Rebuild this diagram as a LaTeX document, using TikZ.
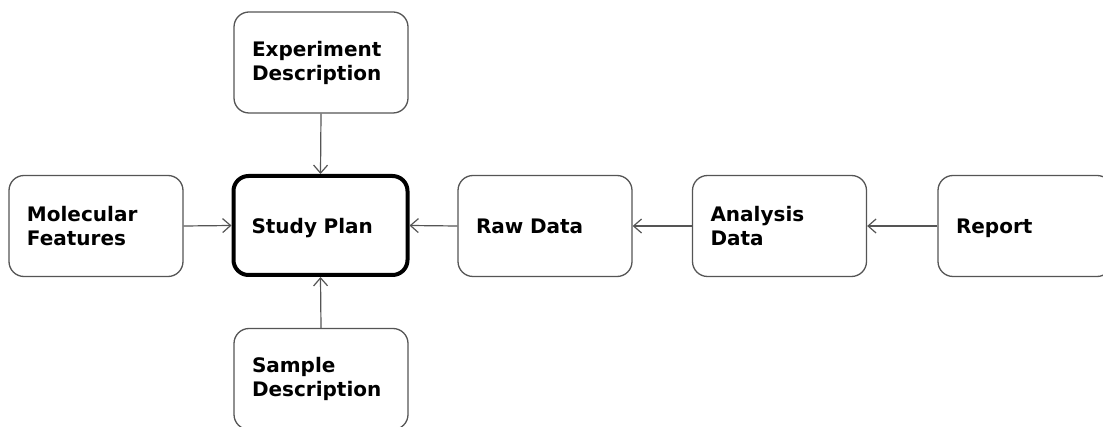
\documentclass[tikz,border=0pt]{standalone}
\usepackage{fontspec}
\setmainfont{DejaVu Sans}
\usetikzlibrary{arrows.meta}
\definecolor{edgegray}{HTML}{555555}
\tikzset{
  box/.style={draw=edgegray, line width=1.3pt, rounded corners=15pt,
    minimum width=174pt, minimum height=101pt, inner xsep=18pt, inner ysep=0pt,
    text width=138pt, align=left, font=\fontsize{20}{24}\selectfont\bfseries,
    text=black, fill=white},
  mainbox/.style={box, draw=black, line width=4pt, minimum width=173pt, minimum height=99pt},
  flatline/.style={text depth=0pt},
  link/.style={draw=edgegray, line width=1.2pt, -{Straight Barb[length=8pt,width=14pt]}}
}
\begin{document}
\begin{tikzpicture}[x=1pt,y=-1pt]
\useasboundingbox (0,0) rectangle (1103,427);
\clip (0,0) rectangle (1103,427);
\node[box] (exp) at (321,62.5) {Experiment\\Description};
\node[box] (mol) at (96,226) {Molecular\\Features};
\node[mainbox, flatline] (study) at (320.5,225.5) {Study Plan};
\node[box] (sample) at (321,379) {Sample\\Description};
\node[box] (raw) at (545,226) {Raw Data};
\node[box] (ana) at (779.5,226) {Analysis\\Data};
\node[box, flatline] (rep) at (1025,226) {Report};
\draw[link] (exp.south) -- (study.north);
\draw[link] (mol.east) -- (study.west);
\draw[link] (sample.north) -- (study.south);
\draw[link] (raw.west) -- (study.east);
\draw[link] (ana.west) -- (raw.east);
\draw[link] (rep.west) -- (ana.east);
\end{tikzpicture}
\end{document}
